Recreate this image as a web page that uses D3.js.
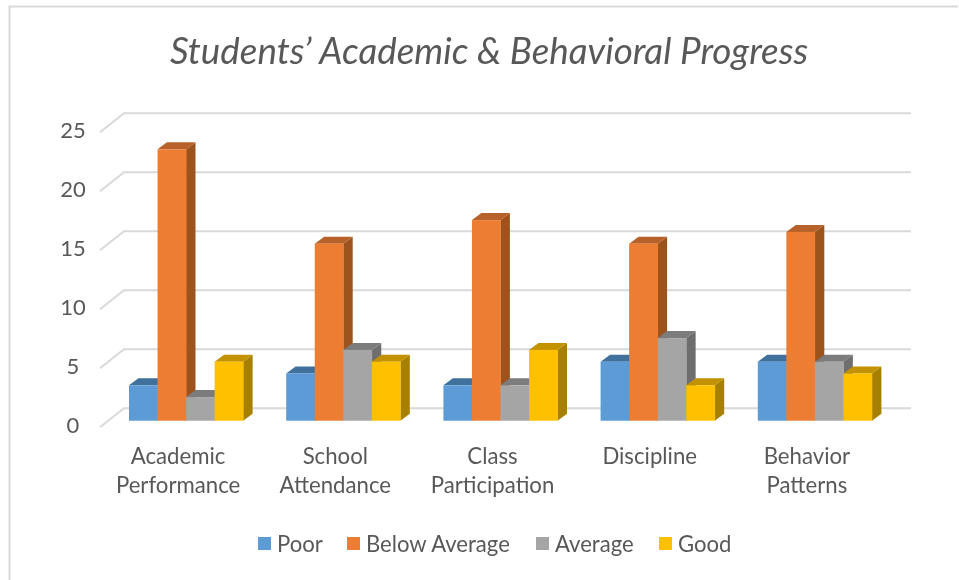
<!DOCTYPE html>
<html>
<head>
<meta charset="utf-8">
<title>Students' Academic & Behavioral Progress</title>
<script src="https://d3js.org/d3.v7.min.js"></script>
<style>
  body { margin: 0; background: #fff; }
  text { font-family: Lato, "Open Sans", sans-serif; fill: #595959; }
</style>
</head>
<body>
<script>
const categories = [["Academic", "Performance"], ["School", "Attendance"], ["Class", "Participation"], ["Discipline"], ["Behavior", "Patterns"]];
const seriesNames = ["Poor", "Below Average", "Average", "Good"];
const poor = [3, 4, 3, 5, 5];
const belowAverage = [23, 15, 17, 15, 16];
const average = [2, 6, 3, 7, 5];
const good = [5, 5, 6, 3, 4];
const yTicks = [0, 5, 10, 15, 20, 25];

const seriesValues = [poor, belowAverage, average, good];
// front face, top face, side face
const colors = [
  ["#5b9bd5", "#41719c", "#41719c"],
  ["#ed7d31", "#b6622a", "#9c521f"],
  ["#a5a5a5", "#7b7b7b", "#6e6e6e"],
  ["#ffc000", "#c29200", "#a88000"]
];

const svg = d3.select("body").append("svg")
  .attr("width", 959)
  .attr("height", 580)
  .style("display", "block");

const defs = svg.append("defs");
defs.append("filter").attr("id", "soft")
  .append("feGaussianBlur").attr("stdDeviation", 0.45);
defs.append("filter").attr("id", "softText")
  .append("feGaussianBlur").attr("stdDeviation", 0.35);

// chart frame
svg.append("path")
  .attr("d", "M9.5,580V6.5H958")
  .attr("fill", "none")
  .attr("stroke", "#d9d9d9")
  .attr("stroke-width", 2);

const labels = svg.append("g").attr("filter", "url(#softText)");

labels.append("text")
  .attr("x", 489).attr("y", 64)
  .attr("text-anchor", "middle")
  .attr("font-size", 36.8)
  .attr("font-style", "italic")
  .text("Students’ Academic & Behavioral Progress");

const chart = svg.append("g").attr("filter", "url(#soft)");

// y is the front plane of the bars
const y = d3.scaleLinear().domain([0, 25]).range([420.7, 125.7]);
const x0 = d3.scaleBand().domain(d3.range(categories.length)).range([129, 872]).paddingInner(0.2735);
const x1 = d3.scaleBand().domain(d3.range(seriesNames.length)).range([0, x0.bandwidth()]);

const wallBack = -12.5, wallFront = 6.5; // offset from the bar plane to wall / front floor edge
chart.selectAll("path.grid")
  .data(yTicks).join("path")
  .attr("class", "grid")
  .attr("d", d => `M100,${y(d) + wallFront}L124,${y(d) + wallBack}H911`)
  .attr("fill", "none")
  .attr("stroke", "#d9d9d9")
  .attr("stroke-width", 2);

const dx = 9.4, dy = -7;
const bars = [];
categories.forEach((c, i) => seriesValues.forEach((vals, s) => bars.push({ i, s, v: vals[i] })));

const bar = chart.selectAll("g.bar")
  .data(bars).join("g")
  .attr("class", "bar")
  .attr("transform", d => `translate(${x0(d.i) + x1(d.s)},0)`);

const w = x1.bandwidth();
bar.append("path")
  .attr("d", d => `M${w},${y(d.v)}l${dx},${dy}V${y(0) + dy}l${-dx},${-dy}Z`)
  .attr("fill", d => colors[d.s][2]);
bar.append("path")
  .attr("d", d => `M0,${y(d.v)}l${dx},${dy}H${w + dx}l${-dx},${-dy}Z`)
  .attr("fill", d => colors[d.s][1]);
bar.append("rect")
  .attr("y", d => y(d.v))
  .attr("width", w + 0.3)
  .attr("height", d => y(0) - y(d.v))
  .attr("fill", d => colors[d.s][0]);

// y axis labels
labels.selectAll("text.ytick")
  .data(yTicks).join("text")
  .attr("class", "ytick")
  .attr("x", 73)
  .attr("y", d => y(d) + 12)
  .attr("text-anchor", "middle")
  .attr("font-size", 22)
  .text(d => d);

// category labels
const catLabel = labels.selectAll("text.cat")
  .data(categories).join("text")
  .attr("class", "cat")
  .attr("text-anchor", "middle")
  .attr("font-size", 22.2);
catLabel.selectAll("tspan")
  .data((d, i) => d.map(t => ({ t, i })))
  .join("tspan")
  .attr("x", d => x0(d.i) + x0.bandwidth() / 2 - 8)
  .attr("y", (d, j) => 463.5 + j * 29.5)
  .text(d => d.t);

// legend
const legendX = [258, 347, 536, 659];
const legend = labels.selectAll("g.legend")
  .data(seriesNames).join("g")
  .attr("class", "legend")
  .attr("transform", (d, i) => `translate(${legendX[i]},537)`);
legend.append("rect")
  .attr("width", 13).attr("height", 13)
  .attr("fill", (d, i) => colors[i][0]);
legend.append("text")
  .attr("x", 19).attr("y", 14.5)
  .attr("font-size", 22.1)
  .text(d => d);
</script>
</body>
</html>
